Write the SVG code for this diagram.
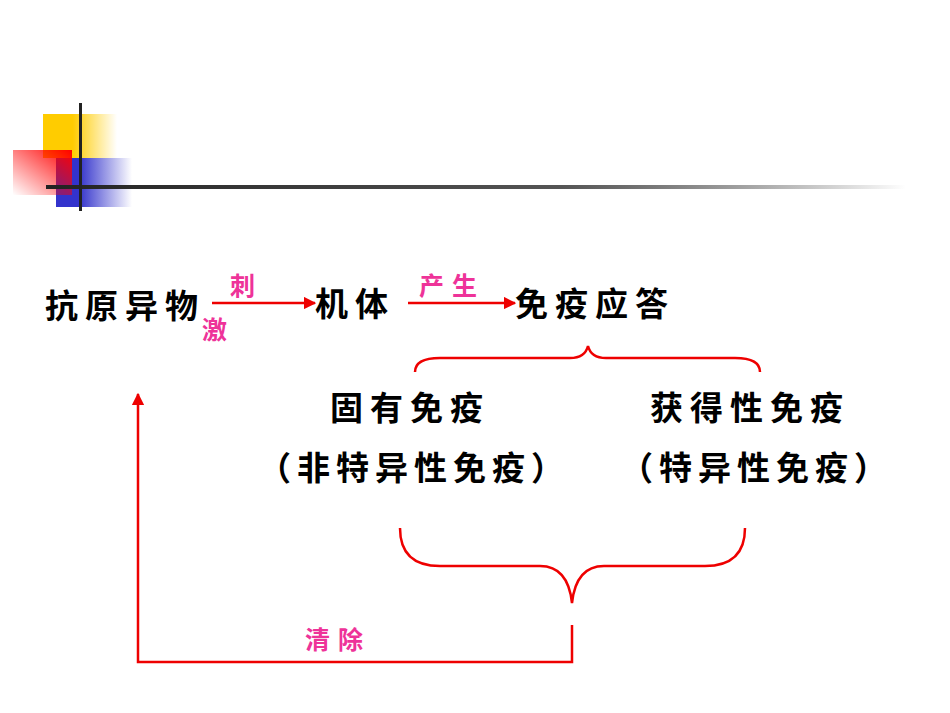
<svg xmlns="http://www.w3.org/2000/svg" width="950" height="713" viewBox="0 0 950 713">
<defs>
<linearGradient id="gy" x1="0" x2="1"><stop offset="0.4" stop-color="#ffcc00"/><stop offset="1" stop-color="#ffcc00" stop-opacity="0"/></linearGradient>
<linearGradient id="gb" x1="0" x2="1"><stop offset="0.3" stop-color="#3333cc"/><stop offset="1" stop-color="#3333cc" stop-opacity="0"/></linearGradient>
<linearGradient id="gr" x1="1" y1="0" x2="0" y2="1"><stop offset="0" stop-color="#ff0000"/><stop offset="1" stop-color="#ff0000" stop-opacity="0"/></linearGradient>
<linearGradient id="gl" x1="0" x2="1"><stop offset="0" stop-color="#222"/><stop offset="0.6" stop-color="#555"/><stop offset="1" stop-color="#222" stop-opacity="0"/></linearGradient>
<marker id="ar" viewBox="0 0 10 10" refX="9" refY="5" markerWidth="5" markerHeight="5" orient="auto"><path d="M0,0L10,5L0,10z" fill="#ee0000"/></marker>
<style>
.t{font-family:"Noto Sans CJK SC",sans-serif;font-size:33px;fill:#000;font-weight:bold;letter-spacing:7px}
.p{font-family:"Noto Sans CJK SC",sans-serif;font-size:25px;fill:#ee3399;font-weight:bold;letter-spacing:8px}
.l{stroke:#ee0000;stroke-width:2.5;fill:none}
</style>
</defs>
<g id="deco">
<rect x="43" y="114" width="74" height="44" fill="url(#gy)"/>
<rect x="56" y="158" width="76" height="49" fill="url(#gb)"/>
<rect x="13" y="150" width="59" height="45" fill="url(#gr)"/>
<rect x="46" y="185" width="860" height="4" fill="url(#gl)"/>
<rect x="79" y="103" width="3" height="108" fill="#222"/>
</g>
<g id="connectors">
<line class="l" x1="212" y1="303" x2="315" y2="303" marker-end="url(#ar)"/>
<line class="l" x1="408" y1="303" x2="515" y2="303" marker-end="url(#ar)"/>
<path class="l" d="M415,372 Q415,358 440,358 L570,358 Q585,358 588,346 Q591,358 606,358 L735,358 Q760,358 760,372"/>
<path class="l" d="M400,528 Q400,566 440,566 L540,566 Q568,566 572,603 Q576,566 604,566 L705,566 Q745,566 745,528"/>
<polyline class="l" points="572,625 572,662 138,662 138,394" marker-end="url(#ar)"/>
</g>
<g id="labels">
<text class="p" x="230" y="295">刺</text>
<text class="p" x="202" y="339">激</text>
<text class="p" x="419" y="295">产生</text>
<text class="p" x="305" y="649">清除</text>
</g>
<g id="n1"><text class="t" x="45" y="318">抗原异物</text></g>
<g id="n2"><text class="t" x="315" y="316">机体</text></g>
<g id="n3"><text class="t" x="515" y="316">免疫应答</text></g>
<g id="n4"><text class="t" x="330" y="420">固有免疫</text></g>
<g id="n5"><text class="t" x="650" y="420">获得性免疫</text></g>
<g id="n6"><text class="t" x="258" y="480" style="letter-spacing:6px">（非特异性免疫）</text></g>
<g id="n7"><text class="t" x="620" y="480" style="letter-spacing:6px">（特异性免疫）</text></g>
</svg>
